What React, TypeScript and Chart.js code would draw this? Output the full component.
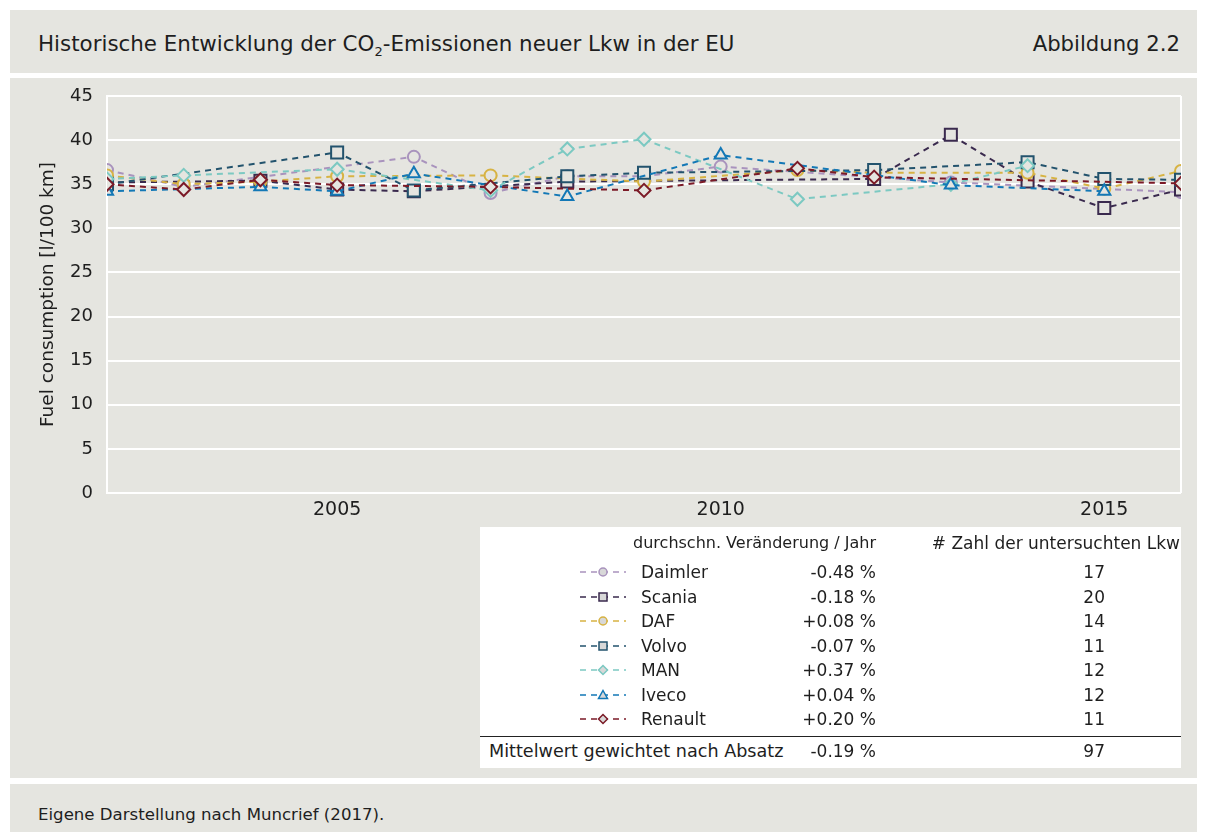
import React, { useEffect, useRef } from 'react';
import { Chart, registerables } from 'chart.js';

Chart.register(...registerables);

// ---- data ----
const years = [2002, 2003, 2004, 2005, 2006, 2007, 2008, 2009, 2010, 2011, 2012, 2013, 2014, 2015, 2016];
const seriesNames = ['Daimler', 'Scania', 'DAF', 'Volvo', 'MAN', 'Iveco', 'Renault'];
const daimler = [36.6, 34.7, null, null, 38.1, 34.0, 35.9, 35.9, 37.0, null, null, 35.2, null, null, 34.1];
const scania = [35.2, null, 35.4, 34.4, 34.2, null, 35.3, null, null, null, 35.6, 40.6, 35.3, 32.3, 34.4];
const daf = [36.0, 35.0, 35.3, 35.9, null, 36.0, null, 35.3, null, 36.6, 36.3, null, 36.3, 34.5, 36.5];
const volvo = [35.0, null, null, 38.6, 34.3, null, 35.9, 36.3, null, null, 36.6, null, 37.5, 35.6, 35.5];
const man = [35.6, 36.0, null, 36.7, null, 34.3, 39.0, 40.1, null, 33.3, null, 35.0, 37.1, null, null];
const iveco = [34.2, null, 34.7, 34.2, 36.2, null, 33.6, null, 38.3, null, null, 34.9, null, 34.2, null];
const renault = [35.0, 34.4, 35.5, 34.9, null, 34.7, null, 34.3, null, 36.8, 35.8, null, null, null, 35.1];
const seriesValues = [daimler, scania, daf, volvo, man, iveco, renault];
const changeLabels = ['-0.48 %', '-0.18 %', '+0.08 %', '-0.07 %', '+0.37 %', '+0.04 %', '+0.20 %'];
const truckCounts = ['17', '20', '14', '11', '12', '12', '11'];
const avgLabel = 'Mittelwert gewichtet nach Absatz';
const avgChange = '-0.19 %';
const avgCount = '97';
const xTickLabels = [2005, 2010, 2015];

// ---- styles ----
const colors = ['#a993bd', '#3a2a4e', '#d7b343', '#23536d', '#7cc9c2', '#1378b6', '#7b1a27'];
const pointStyles = ['circle', 'rect', 'circle', 'rect', 'rectRot', 'triangle', 'rectRot'];
const pointRadii = [6, 8.5, 6, 8.5, 6.5, 7, 6.5];
const BG = '#e5e5e0';
const FONT = '"DejaVu Sans", Roboto, sans-serif';
const TEXT = '#1e1e1e';

function LegendSample({ i }: { i: number }) {
  const c = colors[i];
  const st = pointStyles[i];
  let marker: any = null;
  const cx = 23, cy = 7;
  if (st === 'circle') marker = <circle cx={cx} cy={cy} r={4} fill="#d8d8d8" stroke={c} strokeWidth={1.5} />;
  else if (st === 'rect') marker = <rect x={cx - 4} y={cy - 4} width={8} height={8} fill="#d8d8d8" stroke={c} strokeWidth={1.5} />;
  else if (st === 'rectRot') marker = <polygon points={`${cx - 4.5},${cy} ${cx},${cy - 4.5} ${cx + 4.5},${cy} ${cx},${cy + 4.5}`} fill="#d8d8d8" stroke={c} strokeWidth={1.5} />;
  else marker = <polygon points={`${cx},${cy - 4.5} ${cx + 4.5},${cy + 3.5} ${cx - 4.5},${cy + 3.5}`} fill="#d8d8d8" stroke={c} strokeWidth={1.5} />;
  return (
    <svg width={46} height={14} style={{ position: 'absolute', left: 580, top: 0 }}>
      <line x1={0} y1={cy} x2={46} y2={cy} stroke={c} strokeWidth={1.5} strokeDasharray="6 5" />
      {marker}
    </svg>
  );
}

function abs(left: number, top: number, extra: any = {}) {
  return { position: 'absolute', left, top, ...extra } as any;
}

export default function App() {
  const ref = useRef<HTMLCanvasElement>(null);

  useEffect(() => {
    const datasets = seriesNames.map((name, i) => ({
      label: name,
      data: years.map((x, k) => ({ x, y: seriesValues[i][k] })),
      borderColor: colors[i],
      backgroundColor: BG,
      borderWidth: 2,
      borderDash: [6, 5],
      pointStyle: pointStyles[i] as any,
      pointRadius: pointRadii[i],
      pointBorderWidth: 2,
      pointBorderColor: colors[i],
      pointBackgroundColor: BG,
      spanGaps: true,
      tension: 0,
      order: seriesNames.length - 1 - i,
    }));
    const chart = new Chart(ref.current!, {
      type: 'line',
      data: { datasets },
      options: {
        animation: false,
        responsive: false,
        maintainAspectRatio: false,
        layout: { autoPadding: false, padding: { top: 18, right: 16, left: 0, bottom: 245 } },
        plugins: { legend: { display: false }, tooltip: { enabled: false } },
        scales: {
          x: {
            type: 'linear',
            min: 2002,
            max: 2016,
            afterFit: (s: any) => { s.height = 40; s.paddingLeft = 0; s.paddingRight = 0; },
            ticks: {
              stepSize: 1,
              autoSkip: false,
              maxRotation: 0,
              padding: 6,
              color: TEXT,
              font: { family: FONT, size: 19 },
              callback: (v: any) => (xTickLabels.includes(Number(v)) ? String(v) : ''),
            },
            grid: {
              drawTicks: false,
              lineWidth: 2,
              color: (ctx: any) => (ctx.tick && ctx.tick.value === 2016 ? '#ffffff' : 'rgba(0,0,0,0)'),
            },
            border: { display: false },
          },
          y: {
            min: 0,
            max: 45,
            afterFit: (s: any) => { s.width = 97; s.paddingTop = 0; s.paddingBottom = 0; },
            ticks: { stepSize: 5, padding: 14, color: TEXT, font: { family: FONT, size: 18 } },
            grid: { drawTicks: false, color: '#ffffff', lineWidth: 2 },
            border: { display: true, color: '#ffffff', width: 2 },
            title: {
              display: true,
              text: 'Fuel consumption [l/100 km]',
              color: TEXT,
              font: { family: FONT, size: 18.5 },
              padding: { top: 27, bottom: 0 },
            },
          },
        },
      },
    });
    return () => chart.destroy();
  }, []);

  const rowY = [572, 597, 621, 646, 670, 695, 719];
  const rowFont = { fontFamily: FONT, fontSize: 17, color: TEXT, whiteSpace: 'nowrap', lineHeight: '22px' };

  return (
    <div style={{ position: 'absolute', left: 0, top: 0, width: 1207, height: 832, background: '#fff', overflow: 'hidden', fontFamily: FONT }}>
      {/* header */}
      <div style={abs(10, 10, { width: 1187, height: 63, background: BG })} />
      <div style={abs(38, 30, { fontSize: 21.4, color: TEXT, whiteSpace: 'nowrap', lineHeight: '28px' })}>
        Historische Entwicklung der CO<sub style={{ fontSize: 13, verticalAlign: '-5px', lineHeight: 0 }}>2</sub>-Emissionen neuer Lkw in der EU
      </div>
      <div style={abs(0, 30, { width: 1180, textAlign: 'right', fontSize: 21.2, color: TEXT, whiteSpace: 'nowrap', lineHeight: '28px' })}>
        Abbildung 2.2
      </div>

      {/* chart panel */}
      <div style={abs(10, 78, { width: 1187, height: 700, background: BG })} />
      <canvas ref={ref} width={1187} height={700} style={abs(10, 78, { width: 1187, height: 700 })} />

      {/* table */}
      <div style={abs(480, 527, { width: 701, height: 241, background: '#fff' })} />
      <div style={abs(0, 532, { width: 876, textAlign: 'right', ...rowFont, fontSize: 16 })}>durchschn. Veränderung / Jahr</div>
      <div style={abs(0, 532, { width: 1180, textAlign: 'right', ...rowFont, fontSize: 17 })}># Zahl der untersuchten Lkw</div>
      {seriesNames.map((name, i) => (
        <div key={name} style={abs(0, rowY[i] - 11, { width: 1207, height: 22 })}>
          <div style={abs(0, 4)}><LegendSample i={i} /></div>
          <div style={abs(641, 0, rowFont)}>{name}</div>
          <div style={abs(0, 0, { width: 876, textAlign: 'right', ...rowFont })}>{changeLabels[i]}</div>
          <div style={abs(0, 0, { width: 1105, textAlign: 'right', ...rowFont })}>{truckCounts[i]}</div>
        </div>
      ))}
      <div style={abs(480, 736, { width: 701, height: 1, background: '#222' })} />
      <div style={abs(489, 740, { ...rowFont, fontSize: 17.6 })}>{avgLabel}</div>
      <div style={abs(0, 740, { width: 876, textAlign: 'right', ...rowFont })}>{avgChange}</div>
      <div style={abs(0, 740, { width: 1105, textAlign: 'right', ...rowFont })}>{avgCount}</div>

      {/* footer */}
      <div style={abs(10, 784, { width: 1187, height: 60, background: BG })} />
      <div style={abs(38, 805, { fontSize: 16.6, color: TEXT, whiteSpace: 'nowrap', lineHeight: '20px' })}>
        Eigene Darstellung nach Muncrief (2017).
      </div>
    </div>
  );
}
